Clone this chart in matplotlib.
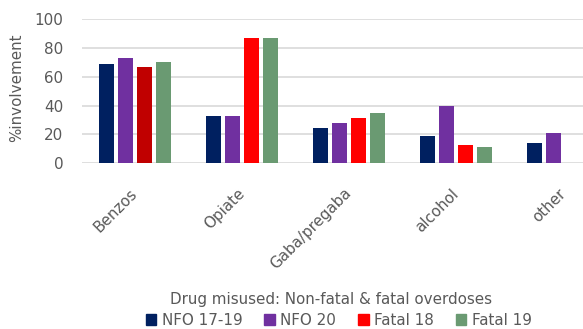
import numpy as np
import matplotlib.pyplot as plt

plt.rcParams['font.family'] = ['DejaVu Sans']

categories = ["Benzos", "Opiate", "Gaba/pregaba", "alcohol", "other"]
series = ["NFO 17-19", "NFO 20", "Fatal 18", "Fatal 19"]
nfo_17_19 = [69, 33, 24.5, 19, 14.3]
nfo_20 = [73, 33, 28, 40, 21]
fatal_18 = [67, 87, 31.4, 13, 0]
fatal_19 = [70, 87, 35, 11.3, 0]
values = [nfo_17_19, nfo_20, fatal_18, fatal_19]
colors = ["#002060", "#7030A0", "#FF0000", "#6A9A72"]

grey = "#595959"
fs = 10.9

fig = plt.figure(figsize=(5.83, 3.29), dpi=100)
# the original chart is cut off on the right, so the axes run past the figure edge
ax = fig.add_axes([0.1398, 0.5037, 0.9177, 0.4386])

x = np.arange(len(categories))
pitch = 0.178
width = 0.14
for i, (vals, col) in enumerate(zip(values, colors)):
    cols = [col] * len(vals)
    if i == 2:
        cols[0] = "#C00000"  # benzos fatal 18 bar is darker in the original
    ax.bar(x + (i - 1.5) * pitch, vals, width, color=cols, label=series[i], zorder=3)

ax.set_xlim(-0.5, len(categories) - 0.5)
ax.set_ylim(0, 100)
ax.set_yticks(range(0, 101, 20))
ax.yaxis.grid(True, color="#D9D9D9", linewidth=1.2, zorder=0)
for s in ax.spines.values():
    s.set_visible(False)
ax.tick_params(axis="both", length=0, colors=grey, labelsize=fs)
ax.tick_params(axis="y", pad=13)
ax.set_xticks(x)
ax.set_xticklabels(categories, rotation=45, ha="right", va="center", rotation_mode="anchor")
ax.tick_params(axis="x", pad=20)

fig.text(0.028, 0.734, "%involvement", rotation=90, ha="center", va="center",
         color=grey, fontsize=fs)
fig.text(0.567, 0.075, "Drug misused: Non-fatal & fatal overdoses", ha="center",
         va="baseline", color=grey, fontsize=fs)
fig.legend([plt.Rectangle((0, 0), 1, 1, color=c) for c in colors], series,
           loc="lower center", bbox_to_anchor=(0.581, -0.024), ncol=4, frameon=False,
           fontsize=fs, handlelength=0.7, handleheight=0.7, borderpad=0.1,
           handletextpad=0.35, columnspacing=1.45, labelcolor=grey)

fig.savefig("out.png", dpi=100)
